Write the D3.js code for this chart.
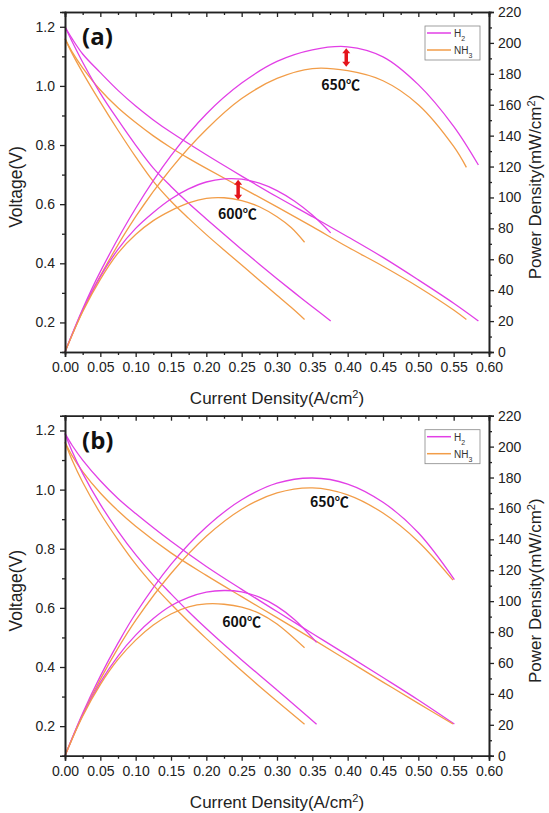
<!DOCTYPE html>
<html>
<head>
<meta charset="utf-8">
<script src="https://cdn.jsdelivr.net/npm/d3@7"></script>
<style>
  body { margin: 0; background: #fff; }
  svg { display: block; }
</style>
</head>
<body>
<div id="chart"></div>
<script>
// ---- data: [current density (A/cm2), value] ----
// panel (a)
const aV_H2_650 = [[0,1.20],[0.01,1.16],[0.025,1.108],[0.05,1.045],[0.075,0.985],[0.1,0.932],[0.125,0.885],[0.15,0.843],[0.2,0.767],[0.25,0.695],[0.3,0.625],[0.35,0.558],[0.4,0.49],[0.45,0.42],[0.5,0.344],[0.55,0.265],[0.585,0.205]];
const aV_NH3_650 = [[0,1.16],[0.01,1.115],[0.025,1.061],[0.05,0.986],[0.075,0.926],[0.1,0.876],[0.125,0.831],[0.15,0.791],[0.175,0.755],[0.2,0.721],[0.25,0.656],[0.3,0.591],[0.35,0.524],[0.4,0.455],[0.45,0.39],[0.5,0.32],[0.55,0.242],[0.568,0.21]];
const aV_H2_600 = [[0,1.20],[0.01,1.15],[0.025,1.08],[0.05,0.975],[0.075,0.885],[0.1,0.80],[0.125,0.722],[0.15,0.66],[0.175,0.603],[0.2,0.55],[0.225,0.498],[0.25,0.447],[0.275,0.397],[0.3,0.348],[0.325,0.30],[0.35,0.253],[0.376,0.205]];
const aV_NH3_600 = [[0,1.16],[0.01,1.11],[0.025,1.045],[0.05,0.945],[0.075,0.85],[0.1,0.76],[0.125,0.677],[0.15,0.61],[0.175,0.552],[0.2,0.497],[0.225,0.445],[0.25,0.394],[0.275,0.343],[0.3,0.292],[0.32,0.251],[0.339,0.21]];
const aP_H2_650 = [[0,0],[0.025,27.8],[0.05,52],[0.1,93],[0.15,127],[0.2,154],[0.25,174],[0.3,188],[0.35,195.5],[0.4,197.5],[0.45,191],[0.5,173],[0.55,146],[0.585,121]];
const aP_NH3_650 = [[0,0],[0.025,26.5],[0.05,49.3],[0.1,87.6],[0.15,118.7],[0.2,144],[0.25,164],[0.3,177],[0.35,183.4],[0.4,182],[0.45,175.5],[0.5,160],[0.55,133],[0.568,119.5]];
const aP_H2_600 = [[0,0],[0.025,27],[0.05,48.8],[0.075,66.4],[0.1,80],[0.125,90.3],[0.15,99],[0.175,105.5],[0.2,110],[0.225,112],[0.25,111.8],[0.275,109.2],[0.3,104.4],[0.325,97.5],[0.35,88.6],[0.376,77.1]];
const aP_NH3_600 = [[0,0],[0.025,26],[0.05,47],[0.075,64],[0.1,76],[0.125,85],[0.15,91.5],[0.175,96.5],[0.2,99.4],[0.225,99.8],[0.25,98],[0.275,94],[0.3,87.5],[0.32,80.5],[0.339,71]];

// panel (b)
const bV_H2_650 = [[0,1.19],[0.01,1.15],[0.025,1.10],[0.05,1.03],[0.075,0.97],[0.1,0.919],[0.15,0.825],[0.2,0.74],[0.25,0.6625],[0.3,0.5875],[0.35,0.5135],[0.4,0.4395],[0.45,0.3645],[0.5,0.2885],[0.551,0.207]];
const bV_NH3_650 = [[0,1.16],[0.01,1.115],[0.025,1.061],[0.05,0.9885],[0.075,0.9285],[0.1,0.876],[0.15,0.786],[0.2,0.71],[0.25,0.638],[0.3,0.567],[0.35,0.495],[0.4,0.422],[0.45,0.349],[0.5,0.277],[0.549,0.207]];
const bV_H2_600 = [[0,1.19],[0.01,1.13],[0.025,1.055],[0.05,0.95],[0.075,0.86],[0.1,0.78],[0.125,0.71],[0.15,0.6475],[0.175,0.587],[0.2,0.53],[0.225,0.476],[0.25,0.424],[0.275,0.373],[0.3,0.322],[0.325,0.271],[0.356,0.206]];
const bV_NH3_600 = [[0,1.16],[0.01,1.10],[0.025,1.025],[0.05,0.92],[0.075,0.83],[0.1,0.748],[0.125,0.677],[0.15,0.613],[0.175,0.553],[0.2,0.496],[0.225,0.441],[0.25,0.387],[0.275,0.335],[0.3,0.284],[0.339,0.206]];
const bP_H2_650 = [[0,0],[0.025,27.5],[0.05,51.5],[0.075,72.8],[0.1,92],[0.15,123.8],[0.2,148],[0.25,165.6],[0.3,176.3],[0.35,179.7],[0.4,175.8],[0.45,164],[0.5,144.3],[0.551,114]];
const bP_NH3_650 = [[0,0],[0.025,26.5],[0.05,49.4],[0.075,69.6],[0.1,87.6],[0.15,117.9],[0.2,142],[0.25,159.5],[0.3,170],[0.35,173.3],[0.4,168.8],[0.45,157],[0.5,138.5],[0.549,113.6]];
const bP_H2_600 = [[0,0],[0.025,26.4],[0.05,47.5],[0.075,64.5],[0.1,78],[0.125,88.75],[0.15,97],[0.175,102.4],[0.2,105.8],[0.225,106.9],[0.25,106],[0.275,102.6],[0.3,96.6],[0.325,88],[0.356,73.3]];
const bP_NH3_600 = [[0,0],[0.025,25.6],[0.05,46],[0.075,62.3],[0.1,74.8],[0.125,84.6],[0.15,91.7],[0.175,96.3],[0.2,98.2],[0.225,98],[0.25,96.2],[0.275,92.1],[0.3,85.2],[0.339,69.8]];

// ticks
const xTicks = [0,0.05,0.1,0.15,0.2,0.25,0.3,0.35,0.4,0.45,0.5,0.55,0.6];
const xMinor = [0.025,0.075,0.125,0.175,0.225,0.275,0.325,0.375,0.425,0.475,0.525,0.575];
const vTicks = [0.2,0.4,0.6,0.8,1.0,1.2];
const vMinor = [0.3,0.5,0.7,0.9,1.1];
const pTicks = [0,20,40,60,80,100,120,140,160,180,200,220];
const pMinor = [10,30,50,70,90,110,130,150,170,190,210];

// legend + annotations
const seriesNames = ["H2", "NH3"];
const aLabels = [{t:"650℃", I:0.39, P:169.5}, {t:"600℃", I:0.244, P:86}];
const bLabels = [{t:"650℃", I:0.374, P:161}, {t:"600℃", I:0.25, P:83.3}];
const aArrows = [{I:0.398, p1:196.5, p2:184.5}, {I:0.245, p1:111.5, p2:98.5}];

const colors = { H2: "#e23fe6", NH3: "#f29d48" };
const font = "'Liberation Sans', Arial, sans-serif";

const W = 549, H = 813;
const svg = d3.select("#chart").append("svg").attr("width", W).attr("height", H);

function drawPanel(top, name, curves, labels, arrows) {
    const left = 65, right = 489, height = 340;
    const bottom = top + height;

    const x = d3.scaleLinear().domain([0, 0.6]).range([left, right]);
    const yV = d3.scaleLinear().domain([0.1, 1.25]).range([bottom, top]);
    const yP = d3.scaleLinear().domain([0, 220]).range([bottom, top]);

    const g = svg.append("g");

    // curves
    const smooth = d3.curveCatmullRom.alpha(0.5);
    const lineV = d3.line().x(d => x(d[0])).y(d => yV(d[1])).curve(smooth);
    const lineP = d3.line().x(d => x(d[0])).y(d => yP(d[1])).curve(smooth);
    curves.forEach(c => {
        g.append("path")
            .attr("d", c.axis === "V" ? lineV(c.data) : lineP(c.data))
            .attr("fill", "none")
            .attr("stroke", colors[c.gas])
            .attr("stroke-width", 1.3);
    });

    // axes
    const styleAxis = sel => {
        sel.select(".domain").attr("stroke", "#222").attr("stroke-width", 1.6);
        sel.selectAll(".tick line").attr("stroke", "#222").attr("stroke-width", 1.3);
        sel.selectAll(".tick text").attr("font-family", font).attr("font-size", 14).attr("fill", "#222");
    };
    g.append("g").attr("transform", `translate(0,${bottom})`)
        .call(d3.axisBottom(x).tickValues(xTicks).tickSize(5).tickPadding(5).tickFormat(d3.format(".2f"))).call(styleAxis);
    g.append("g").attr("transform", `translate(0,${bottom})`)
        .call(d3.axisBottom(x).tickValues(xMinor).tickSize(3).tickFormat("")).call(styleAxis);
    g.append("g").attr("transform", `translate(0,${top})`)
        .call(d3.axisTop(x).tickValues(xTicks).tickSize(-5).tickFormat("")).call(styleAxis);
    g.append("g").attr("transform", `translate(0,${top})`)
        .call(d3.axisTop(x).tickValues(xMinor).tickSize(-3).tickFormat("")).call(styleAxis);
    g.append("g").attr("transform", `translate(${left},0)`)
        .call(d3.axisLeft(yV).tickValues(vTicks).tickSize(5).tickPadding(5).tickFormat(d3.format(".1f"))).call(styleAxis);
    g.append("g").attr("transform", `translate(${left},0)`)
        .call(d3.axisLeft(yV).tickValues(vMinor).tickSize(3).tickFormat("")).call(styleAxis);
    g.append("g").attr("transform", `translate(${right},0)`)
        .call(d3.axisRight(yP).tickValues(pTicks).tickSize(5).tickPadding(4)).call(styleAxis);
    g.append("g").attr("transform", `translate(${right},0)`)
        .call(d3.axisRight(yP).tickValues(pMinor).tickSize(3).tickFormat("")).call(styleAxis);

    // axis titles
    const xt = g.append("text")
        .attr("x", (left + right) / 2).attr("y", bottom + 52)
        .attr("text-anchor", "middle").attr("font-family", font).attr("font-size", 17).attr("fill", "#222");
    xt.append("tspan").text("Current Density(A/cm");
    xt.append("tspan").attr("baseline-shift", "super").attr("font-size", 11).text("2");
    xt.append("tspan").text(")");

    g.append("text")
        .attr("transform", `translate(22,${(top + bottom) / 2 + 5}) rotate(-90)`)
        .attr("text-anchor", "middle").attr("font-family", font).attr("font-size", 17.5).attr("fill", "#222")
        .text("Voltage(V)");

    const yt = g.append("text")
        .attr("transform", `translate(541,${(top + bottom) / 2 + 5}) rotate(-90)`)
        .attr("text-anchor", "middle").attr("font-family", font).attr("font-size", 17).attr("fill", "#222");
    yt.append("tspan").text("Power Density(mW/cm");
    yt.append("tspan").attr("baseline-shift", "super").attr("font-size", 11).text("2");
    yt.append("tspan").text(")");

    // panel letter
    g.append("text")
        .attr("x", left + 17).attr("y", top + 33)
        .attr("font-family", "'Open Sans', 'Noto Sans', sans-serif").attr("font-weight", "bold")
        .attr("font-size", 24).attr("fill", "#111")
        .text(name);

    // temperature labels
    labels.forEach(l => {
        g.append("text")
            .attr("x", x(l.I)).attr("y", yP(l.P))
            .attr("text-anchor", "middle")
            .attr("font-family", "'Noto Sans CJK KR', 'Noto Sans', sans-serif").attr("font-weight", "bold")
            .attr("font-size", 14).attr("fill", "#111")
            .text(l.t);
    });

    // red arrows
    arrows.forEach(a => {
        const ax = x(a.I), y1 = yP(a.p1), y2 = yP(a.p2);
        g.append("line").attr("x1", ax).attr("x2", ax).attr("y1", y1 + 4).attr("y2", y2 - 4)
            .attr("stroke", "#e4141b").attr("stroke-width", 3.5);
        g.append("path").attr("d", `M${ax},${y1} L${ax - 4},${y1 + 5} L${ax + 4},${y1 + 5} Z`).attr("fill", "#e4141b");
        g.append("path").attr("d", `M${ax},${y2} L${ax - 4},${y2 - 5} L${ax + 4},${y2 - 5} Z`).attr("fill", "#e4141b");
    });

    // legend
    const lg = g.append("g").attr("transform", `translate(${right - 64},${top + 14})`);
    lg.append("rect").attr("width", 55).attr("height", 34)
        .attr("fill", "#fff").attr("stroke", "#888").attr("stroke-width", 0.8);
    seriesNames.forEach((s, i) => {
        const yy = 7 + i * 17;
        lg.append("line").attr("x1", 2).attr("x2", 26).attr("y1", yy).attr("y2", yy)
            .attr("stroke", colors[s]).attr("stroke-width", 1.5);
        const t = lg.append("text").attr("x", 29).attr("y", yy + 4)
            .attr("font-family", font).attr("font-size", 10).attr("fill", "#333");
        t.append("tspan").text(s.replace(/\d/g, ""));
        t.append("tspan").attr("baseline-shift", "sub").attr("font-size", 7).text(s.replace(/\D/g, ""));
    });
}

drawPanel(12, "(a)", [
    {gas:"H2", axis:"V", data:aV_H2_650}, {gas:"NH3", axis:"V", data:aV_NH3_650},
    {gas:"H2", axis:"V", data:aV_H2_600}, {gas:"NH3", axis:"V", data:aV_NH3_600},
    {gas:"H2", axis:"P", data:aP_H2_650}, {gas:"NH3", axis:"P", data:aP_NH3_650},
    {gas:"H2", axis:"P", data:aP_H2_600}, {gas:"NH3", axis:"P", data:aP_NH3_600}
], aLabels, aArrows);

drawPanel(415.7, "(b)", [
    {gas:"H2", axis:"V", data:bV_H2_650}, {gas:"NH3", axis:"V", data:bV_NH3_650},
    {gas:"H2", axis:"V", data:bV_H2_600}, {gas:"NH3", axis:"V", data:bV_NH3_600},
    {gas:"H2", axis:"P", data:bP_H2_650}, {gas:"NH3", axis:"P", data:bP_NH3_650},
    {gas:"H2", axis:"P", data:bP_H2_600}, {gas:"NH3", axis:"P", data:bP_NH3_600}
], bLabels, []);
</script>
</body>
</html>
